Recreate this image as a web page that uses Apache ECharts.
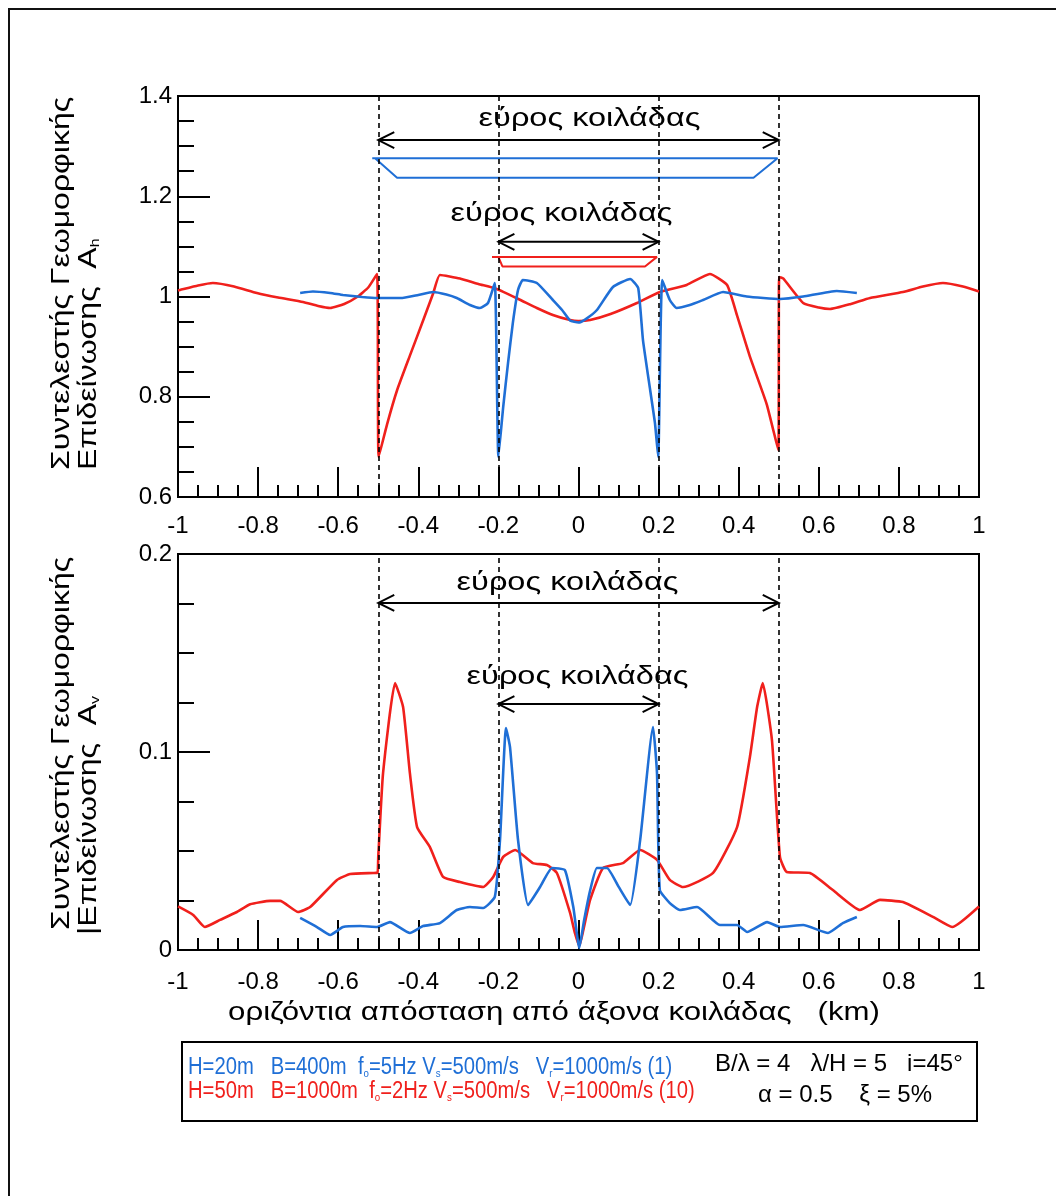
<!DOCTYPE html>
<html><head><meta charset="utf-8">
<script src="https://cdn.jsdelivr.net/npm/echarts@6/dist/echarts.min.js"></script>
<style>html,body{margin:0;padding:0;background:#fff}#c{width:1056px;height:1196px}</style>
</head><body><div id="c"></div><script>
// ---- data ----
const xTicks = [-1, -0.8, -0.6, -0.4, -0.2, 0, 0.2, 0.4, 0.6, 0.8, 1];
const valleyEdges = [-0.5, -0.2, 0.2, 0.5];
const spanLabel = 'εύρος κοιλάδας';
const topSpans = [[-0.5, 0.5, 1.312], [-0.2, 0.2, 1.109]];
const bottomSpans = [[-0.5, 0.5, 0.1753], [-0.2, 0.2, 0.1242]];
const blueBracket = [[-0.508,1.276],[-0.515,1.276],[0.497,1.276],[0.437,1.237],[-0.453,1.237],[-0.508,1.276]];
const redBracket = [[-0.2,1.079],[-0.216,1.079],[0.196,1.079],[0.166,1.06],[-0.19,1.06],[-0.2,1.079]];

const topRed = [[-1.0,1.012],[-0.995,1.013],[-0.95,1.022],[-0.913,1.027],[-0.86,1.02],[-0.803,1.007],[-0.75,0.998],[-0.688,0.989],[-0.65,0.981],[-0.62,0.977],[-0.585,0.985],[-0.553,0.999],[-0.525,1.018],[-0.503,1.045],[-0.499,0.68],[-0.478,0.745],[-0.453,0.813],[-0.421,0.882],[-0.388,0.952],[-0.363,1.006],[-0.346,1.043],[-0.296,1.036],[-0.25,1.025],[-0.204,1.015],[-0.15,0.995],[-0.104,0.977],[-0.064,0.963],[-0.021,0.953],[0.0,0.951],[0.029,0.953],[0.08,0.965],[0.146,0.987],[0.203,1.009],[0.27,1.023],[0.328,1.045],[0.371,1.023],[0.396,0.962],[0.428,0.88],[0.47,0.785],[0.499,0.693],[0.501,1.039],[0.511,1.036],[0.561,0.987],[0.6,0.978],[0.628,0.975],[0.68,0.985],[0.728,0.997],[0.81,1.009],[0.86,1.02],[0.91,1.027],[0.96,1.02],[1.0,1.01]];
const topBlue = [[-0.695,1.007],[-0.663,1.01],[-0.62,1.007],[-0.588,1.003],[-0.54,0.999],[-0.503,0.997],[-0.44,0.997],[-0.4,1.003],[-0.363,1.009],[-0.33,1.004],[-0.304,0.997],[-0.271,0.983],[-0.246,0.977],[-0.226,0.987],[-0.209,1.027],[-0.2,0.68],[-0.188,0.78],[-0.176,0.867],[-0.164,0.947],[-0.151,1.013],[-0.139,1.033],[-0.104,1.027],[-0.064,0.993],[-0.041,0.973],[-0.021,0.952],[0.0,0.948],[0.02,0.956],[0.046,0.973],[0.086,1.019],[0.129,1.035],[0.149,1.017],[0.161,0.913],[0.179,0.813],[0.191,0.747],[0.199,0.68],[0.209,1.033],[0.228,0.993],[0.245,0.977],[0.278,0.983],[0.311,0.993],[0.361,1.009],[0.42,1.0],[0.503,0.995],[0.561,1.0],[0.645,1.011],[0.695,1.007]];
const bottomRed = [[-1.0,0.022],[-0.962,0.0177],[-0.933,0.0116],[-0.895,0.0152],[-0.853,0.0192],[-0.82,0.0231],[-0.77,0.0248],[-0.745,0.0248],[-0.70,0.0192],[-0.67,0.0217],[-0.603,0.0354],[-0.57,0.0384],[-0.513,0.0389],[-0.502,0.039],[-0.5,0.047],[-0.488,0.0893],[-0.458,0.1348],[-0.438,0.1227],[-0.421,0.0893],[-0.403,0.0621],[-0.371,0.052],[-0.338,0.0369],[-0.296,0.0343],[-0.238,0.0318],[-0.213,0.0369],[-0.188,0.047],[-0.158,0.0505],[-0.114,0.0439],[-0.079,0.0429],[-0.054,0.0389],[-0.021,0.0187],[-0.009,0.0086],[0.002,0.002],[0.012,0.01],[0.029,0.0253],[0.061,0.0414],[0.111,0.0439],[0.154,0.0505],[0.196,0.0455],[0.228,0.0354],[0.261,0.0318],[0.336,0.0389],[0.396,0.0621],[0.428,0.0975],[0.446,0.1227],[0.46,0.1348],[0.483,0.106],[0.503,0.047],[0.52,0.0394],[0.578,0.0389],[0.635,0.0303],[0.703,0.0202],[0.753,0.0253],[0.81,0.0242],[0.885,0.0167],[0.933,0.0116],[1.0,0.022]];
const bottomBlue = [[-0.695,0.0162],[-0.653,0.0116],[-0.62,0.0076],[-0.588,0.0116],[-0.545,0.0121],[-0.503,0.0116],[-0.471,0.0141],[-0.421,0.0086],[-0.388,0.0121],[-0.346,0.0136],[-0.304,0.0202],[-0.271,0.0217],[-0.238,0.0212],[-0.209,0.0268],[-0.196,0.0556],[-0.181,0.1121],[-0.171,0.1025],[-0.151,0.0556],[-0.126,0.0227],[-0.096,0.0318],[-0.066,0.0414],[-0.034,0.0404],[-0.013,0.0217],[0.002,0.001],[0.014,0.015],[0.029,0.03],[0.046,0.0414],[0.071,0.0414],[0.1,0.032],[0.129,0.0227],[0.154,0.0556],[0.186,0.1126],[0.196,0.0894],[0.203,0.0303],[0.228,0.0237],[0.253,0.0202],[0.296,0.0217],[0.353,0.0126],[0.396,0.0126],[0.421,0.0091],[0.471,0.0141],[0.503,0.0116],[0.561,0.0126],[0.623,0.0086],[0.66,0.0136],[0.695,0.0167]];

const legendBlue = 'H=20m   B=400m  f{s|o}=5Hz V{s|s}=500m/s   V{s|r}=1000m/s (1)';
const legendRed  = 'H=50m   B=1000m  f{s|o}=2Hz V{s|s}=500m/s   V{s|r}=1000m/s (10)';
const paramLine1 = 'B/λ = 4   λ/H = 5   i=45°';
const paramLine2 = 'α = 0.5    ξ = 5%';
const yTitleTop = ['Συντελεστής Γεωμορφικής', 'Επιδείνωσης  A{s|h}'];
const yTitleBottom = ['Συντελεστής Γεωμορφικής', '|Επιδείνωσης  A{s|v}'];
const xTitle = 'οριζόντια απόσταση από άξονα κοιλάδας   (km)';

// ---- styles ----
const RED = '#f0201c', BLUE = '#1f6fd6';
const FONT = 'Liberation Sans, Arial, sans-serif';

function xAxisCfg(gi, margin) {
  return {
    gridIndex: gi, type: 'value', min: -1, max: 1, interval: 0.2,
    axisLine: { show: true, onZero: false, lineStyle: { color: '#000', width: 2 } },
    axisTick: { show: true, inside: true, length: 30, lineStyle: { color: '#000', width: 2 } },
    minorTick: { show: true, splitNumber: 4, length: 12, lineStyle: { color: '#000', width: 2 } },
    splitLine: { show: false }, minorSplitLine: { show: false },
    axisLabel: { color: '#000', fontSize: 24, fontFamily: FONT, margin: margin }
  };
}
function yAxisCfg(gi, min, max, interval) {
  return {
    gridIndex: gi, type: 'value', min: min, max: max, interval: interval,
    axisLine: { show: true, onZero: false, lineStyle: { color: '#000', width: 2 } },
    axisTick: { show: true, inside: true, length: 32, lineStyle: { color: '#000', width: 2 } },
    minorTick: { show: true, splitNumber: 4, length: 16, lineStyle: { color: '#000', width: 2 } },
    splitLine: { show: false }, minorSplitLine: { show: false },
    axisLabel: { color: '#000', fontSize: 24, fontFamily: FONT, margin: 6 }
  };
}
function curve(gi, data, color, extra) {
  return Object.assign({
    type: 'line', xAxisIndex: gi, yAxisIndex: gi, data: data, showSymbol: false, symbol: 'none',
    smooth: 0.15, lineStyle: { color: color, width: 2.6 }, z: 3, animation: false
  }, extra || {});
}
function edgeLines() {
  return {
    silent: true, symbol: 'none', animation: false,
    label: { show: false },
    lineStyle: { type: [5, 4], color: '#000', width: 1.6 },
    data: valleyEdges.map(v => ({ xAxis: v }))
  };
}
function spanSeries(gi, spans, offsets) {
  return {
    type: 'custom', xAxisIndex: gi, yAxisIndex: gi, data: spans, z: 5, animation: false, silent: true,
    renderItem: function (params, api) {
      const y = api.value(2);
      const a = api.coord([api.value(0), y]);
      const b = api.coord([api.value(1), y]);
      const off = offsets[params.dataIndex];
      const ls = { stroke: '#000', lineWidth: 2, fill: null };
      return {
        type: 'group', children: [
          { type: 'line', shape: { x1: a[0], y1: a[1], x2: b[0], y2: b[1] }, style: ls },
          { type: 'polyline', shape: { points: [[a[0] + 16, a[1] - 8], [a[0], a[1]], [a[0] + 16, a[1] + 8]] }, style: ls },
          { type: 'polyline', shape: { points: [[b[0] - 16, b[1] - 8], [b[0], b[1]], [b[0] - 16, b[1] + 8]] }, style: ls },
          { type: 'text', x: (a[0] + b[0]) / 2 + off[0], y: a[1] + off[1], scaleX: 1.25,
            style: { text: spanLabel, fill: '#000', font: '26px ' + FONT, align: 'center', verticalAlign: 'middle' } }
        ]
      };
    }
  };
}

function yTitle(x, y, text) {
  return {
    type: 'text', x: x, y: y, rotation: Math.PI / 2, scaleX: 1.23,
    style: { text: text, font: '26px ' + FONT, fill: '#000', align: 'left', verticalAlign: 'middle',
      rich: { s: { fontSize: 13, fontFamily: FONT, verticalAlign: 'bottom', padding: [10, 0, 0, 0] } } }
  };
}
function legendLine(y, text, color) {
  return {
    type: 'text', x: 188, y: y, scaleX: 0.88,
    style: { text: text, fill: color, font: '23px ' + FONT, verticalAlign: 'middle',
      rich: { s: { fontSize: 11, fontFamily: FONT, fill: color, verticalAlign: 'bottom', padding: [11, 0, 0, 0] } } }
  };
}

const chart = echarts.init(document.getElementById('c'), null, { renderer: 'canvas' });
chart.setOption({
  backgroundColor: '#fff',
  animation: false,
  grid: [
    { left: 178, top: 96, width: 801, height: 401, show: true, borderColor: '#000', borderWidth: 2 },
    { left: 178, top: 554, width: 801, height: 396, show: true, borderColor: '#000', borderWidth: 2 }
  ],
  xAxis: [xAxisCfg(0, 17), xAxisCfg(1, 20)],
  yAxis: [yAxisCfg(0, 0.6, 1.4, 0.2), yAxisCfg(1, 0, 0.2, 0.1)],
  series: [
    curve(0, topRed, RED, { markLine: edgeLines() }),
    curve(0, topBlue, BLUE),
    curve(0, blueBracket, BLUE, { smooth: false, lineStyle: { color: BLUE, width: 2 } }),
    curve(0, redBracket, RED, { smooth: false, lineStyle: { color: RED, width: 2 } }),
    spanSeries(0, topSpans, [[11, -21], [-17, -28]]),
    curve(1, bottomRed, RED, { markLine: edgeLines() }),
    curve(1, bottomBlue, BLUE),
    spanSeries(1, bottomSpans, [[-11, -20], [-1, -27]])
  ],
  graphic: [
    { type: 'polyline', shape: { points: [[9, 1196], [9, 9], [1056, 9]] }, style: { stroke: '#111', lineWidth: 2, fill: null } },
    { type: 'rect', shape: { x: 182, y: 1042, width: 795, height: 79 }, style: { stroke: '#000', lineWidth: 2, fill: null } },
    legendLine(1068, legendBlue, BLUE),
    legendLine(1092, legendRed, RED),
    { type: 'text', x: 715, y: 1064, style: { text: paramLine1, fill: '#000', font: '24px ' + FONT, verticalAlign: 'middle' } },
    { type: 'text', x: 845, y: 1095, style: { text: paramLine2, fill: '#000', font: '24px ' + FONT, align: 'center', verticalAlign: 'middle' } },
    yTitle(62, 470, yTitleTop[0]),
    yTitle(89, 470, yTitleTop[1]),
    yTitle(62, 930, yTitleBottom[0]),
    yTitle(89, 935, yTitleBottom[1]),
    { type: 'text', x: 554, y: 1013, scaleX: 1.2, style: { text: xTitle, fill: '#000', font: '26px ' + FONT, align: 'center', verticalAlign: 'middle' } }
  ]
});
</script></body></html>
